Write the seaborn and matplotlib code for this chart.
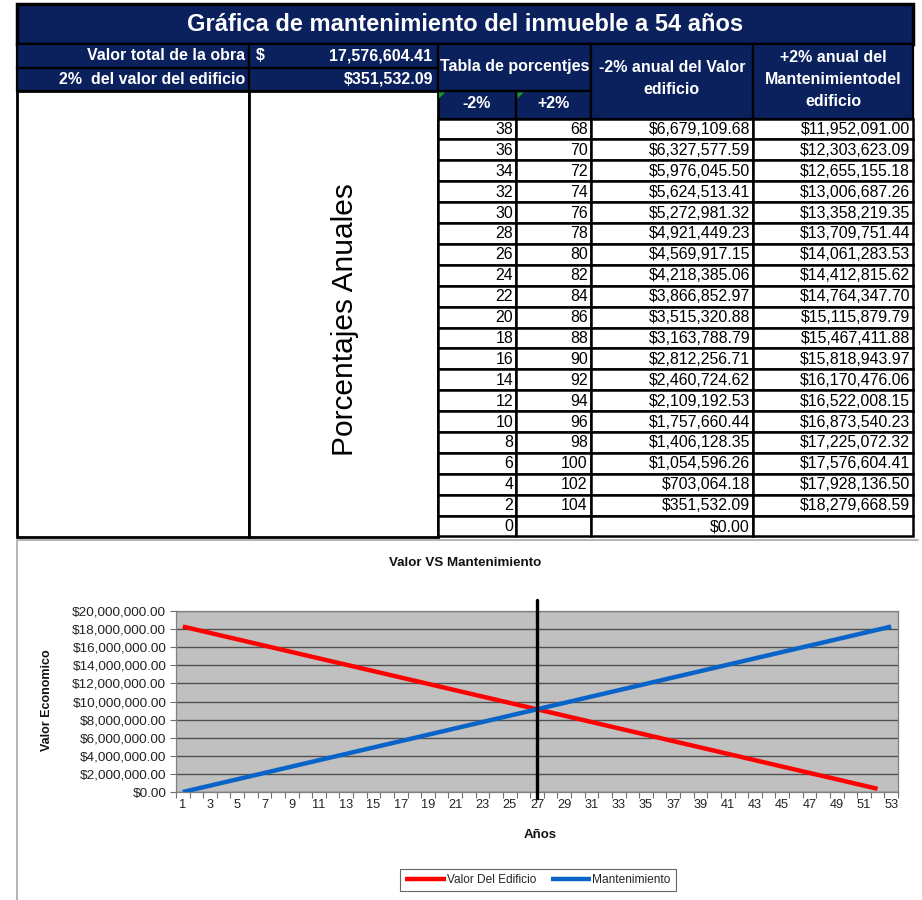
import matplotlib
matplotlib.use("Agg")
import matplotlib.pyplot as plt
from matplotlib.patches import Rectangle, Polygon
from matplotlib.ticker import FuncFormatter
import numpy as np
import pandas as pd
import seaborn as sns

# ---------------------------------------------------------------- data
titulo = "Gráfica de mantenimiento del inmueble a 54 años"
valor_total_obra = 17576604.41
dos_por_ciento = 351532.09

# Tabla de porcentajes
pct_menos = [38, 36, 34, 32, 30, 28, 26, 24, 22, 20, 18, 16, 14, 12, 10, 8, 6, 4, 2, 0]
pct_mas = [68, 70, 72, 74, 76, 78, 80, 82, 84, 86, 88, 90, 92, 94, 96, 98, 100, 102, 104]
valor_menos = [6679109.68, 6327577.59, 5976045.50, 5624513.41, 5272981.32,
               4921449.23, 4569917.15, 4218385.06, 3866852.97, 3515320.88,
               3163788.79, 2812256.71, 2460724.62, 2109192.53, 1757660.44,
               1406128.35, 1054596.26, 703064.18, 351532.09, 0.00]
valor_mas = [11952091.00, 12303623.09, 12655155.18, 13006687.26, 13358219.35,
             13709751.44, 14061283.53, 14412815.62, 14764347.70, 15115879.79,
             15467411.88, 15818943.97, 16170476.06, 16522008.15, 16873540.23,
             17225072.32, 17576604.41, 17928136.50, 18279668.59]

# Serie de la gráfica: valor del edificio (años 1-52) y mantenimiento (años 1-53)
valor_edificio = [18279668.59, 17928136.50, 17576604.41, 17225072.32, 16873540.23,
                  16522008.15, 16170476.06, 15818943.97, 15467411.88, 15115879.79,
                  14764347.70, 14412815.62, 14061283.53, 13709751.44, 13358219.35,
                  13006687.26, 12655155.18, 12303623.09, 11952091.00, 11600558.91,
                  11249026.82, 10897494.73, 10545962.65, 10194430.56, 9842898.47,
                  9491366.38, 9139834.29, 8788302.21, 8436770.12, 8085238.03,
                  7733705.94, 7382173.85, 7030641.76, 6679109.68, 6327577.59,
                  5976045.50, 5624513.41, 5272981.32, 4921449.23, 4569917.15,
                  4218385.06, 3866852.97, 3515320.88, 3163788.79, 2812256.71,
                  2460724.62, 2109192.53, 1757660.44, 1406128.35, 1054596.26,
                  703064.18, 351532.09]
mantenimiento = [0.00, 351532.09, 703064.18, 1054596.26, 1406128.35, 1757660.44,
                 2109192.53, 2460724.62, 2812256.71, 3163788.79, 3515320.88,
                 3866852.97, 4218385.06, 4569917.15, 4921449.23, 5272981.32,
                 5624513.41, 5976045.50, 6327577.59, 6679109.68, 7030641.76,
                 7382173.85, 7733705.94, 8085238.03, 8436770.12, 8788302.21,
                 9139834.29, 9491366.38, 9842898.47, 10194430.56, 10545962.65,
                 10897494.73, 11249026.82, 11600558.91, 11952091.00, 12303623.09,
                 12655155.18, 13006687.26, 13358219.35, 13709751.44, 14061283.53,
                 14412815.62, 14764347.70, 15115879.79, 15467411.88, 15818943.97,
                 16170476.06, 16522008.15, 16873540.23, 17225072.32, 17576604.41,
                 17928136.50, 18279668.59]
anio_cruce = 27
serie_nombres = ["Valor Del Edificio", "Mantenimiento"]

# ---------------------------------------------------------------- style
sns.set_style("white")
plt.rcParams["font.family"] = ["Liberation Sans", "DejaVu Sans"]

NAVY = "#0B215E"
W, H = 922, 900
fig = plt.figure(figsize=(W / 100, H / 100), dpi=100)

# Sheet layer in pixel coordinates
sheet = fig.add_axes([0, 0, 1, 1])
sheet.set_xlim(0, W)
sheet.set_ylim(H, 0)
sheet.axis("off")


def cell(x0, y0, x1, y1, fc="white", lw=1.6):
    sheet.add_patch(Rectangle((x0, y0), x1 - x0, y1 - y0, facecolor=fc,
                              edgecolor="black", linewidth=lw, zorder=2))


def money(v):
    return "${:,.2f}".format(v)


# column and row edges
cx = [17, 249, 437.5, 516, 590.5, 753, 913]
y_title = (4, 43.5)
y_r2 = (43.5, 67.5)
y_r3 = (67.5, 91)
y_sub = (91, 118.5)
row_h = 20.9
y_data0 = 118.5
y_end = y_data0 + row_h * len(pct_menos)

# title bar
cell(cx[0], y_title[0], cx[-1], y_title[1], NAVY, lw=2.5)
sheet.text(465, 24.5, titulo, color="white", fontsize=17, fontweight="bold",
           ha="center", va="center", zorder=5)

# summary rows
for (ya, yb) in (y_r2, y_r3):
    cell(cx[0], ya, cx[1], yb, NAVY)
    cell(cx[1], ya, cx[2], yb, NAVY)
hdr = dict(color="white", fontsize=11.5, fontweight="bold", va="center", zorder=5)
sheet.text(245, 56, "Valor total de la obra", ha="right", **hdr)
sheet.text(256, 56, "$", ha="left", **hdr)
sheet.text(432, 56, "{:,.2f}".format(valor_total_obra), ha="right", **hdr)
sheet.text(245, 79.5, "2%  del valor del edificio", ha="right", **hdr)
sheet.text(433, 79.5, money(dos_por_ciento), ha="right", **hdr)

# percentage table headers
cell(cx[2], y_r2[0], cx[4], y_sub[0], NAVY)
t = sheet.text(440, 67, "Tabla de porcentjes", ha="left", **hdr)
clip = Rectangle((cx[2], y_r2[0]), cx[4] - cx[2] - 1, y_sub[0] - y_r2[0],
                 transform=sheet.transData, visible=False)
sheet.add_patch(clip)
t.set_clip_path(clip)
cell(cx[2], y_sub[0], cx[3], y_sub[1], NAVY)
cell(cx[3], y_sub[0], cx[4], y_sub[1], NAVY)
sheet.text((cx[2] + cx[3]) / 2, 104, "-2%", ha="center", **hdr)
sheet.text((cx[3] + cx[4]) / 2, 104, "+2%", ha="center", **hdr)
for xg in (cx[2] + 1.5, cx[3] + 1.5):
    sheet.add_patch(Polygon([[xg, 92.5], [xg + 6, 92.5], [xg, 98.5]],
                            closed=True, facecolor="#1E9A1E", edgecolor="none", zorder=6))

cell(cx[4], y_r2[0], cx[5], y_sub[1], NAVY)
sheet.text((cx[4] + cx[5]) / 2, 68, "-2% anual del Valor", ha="center", **hdr)
sheet.text((cx[4] + cx[5]) / 2, 89.5, "edificio", ha="center", **hdr)
cell(cx[5], y_r2[0], cx[6], y_sub[1], NAVY)
sheet.text((cx[5] + cx[6]) / 2, 57, "+2% anual del", ha="center", **hdr)
sheet.text((cx[5] + cx[6]) / 2, 79, "Mantenimientodel", ha="center", **hdr)
sheet.text((cx[5] + cx[6]) / 2, 101, "edificio", ha="center", **hdr)

# empty white block with vertical caption
cell(cx[0], y_r3[1], cx[1], y_end, "white", lw=2)
cell(cx[1], y_r3[1], cx[2], y_end, "white", lw=2)
sheet.text(345, 320, "Porcentajes Anuales", rotation=90, fontsize=21.5,
           ha="center", va="center", color="black", zorder=5)

# data rows
num = dict(color="black", fontsize=11.4, va="center", ha="right", zorder=5)
for i in range(len(pct_menos)):
    y0 = y_data0 + i * row_h
    y1 = y0 + row_h
    for c in range(2, 6):
        cell(cx[c], y0, cx[c + 1], y1, "white", lw=1.8)
    yc = (y0 + y1) / 2 + 0.5
    sheet.text(cx[3] - 3, yc, str(pct_menos[i]), **num)
    if i < len(pct_mas):
        sheet.text(cx[4] - 3, yc, str(pct_mas[i]), **num)
        sheet.text(cx[6] - 3, yc, money(valor_mas[i]), **num)
    sheet.text(cx[5] - 3, yc, money(valor_menos[i]), **num)

# chart frame edges
sheet.plot([17, 17], [541, 900], color="#A8A8A8", lw=1.2, zorder=1)
sheet.plot([17, 918], [540, 540], color="#A8A8A8", lw=1.2, zorder=1)

# chart texts
sheet.text(465, 563, "Valor VS Mantenimiento", fontsize=9.6, fontweight="bold",
           ha="center", va="center", color="#111111")
sheet.text(47, 700, "Valor Economico", fontsize=9, fontweight="bold",
           rotation=90, ha="center", va="center", color="#111111")
sheet.text(540, 835, "Años", fontsize=9.5, fontweight="bold",
           ha="center", va="center", color="#111111")

# ---------------------------------------------------------------- chart
df = pd.concat([
    pd.DataFrame({"Año": np.arange(1, len(valor_edificio) + 1),
                  "Valor": valor_edificio, "Serie": serie_nombres[0]}),
    pd.DataFrame({"Año": np.arange(1, len(mantenimiento) + 1),
                  "Valor": mantenimiento, "Serie": serie_nombres[1]}),
])
n_cat = len(mantenimiento)

ax = fig.add_axes([176 / W, 1 - 792 / H, (898 - 176) / W, (792 - 611) / H])
ax.set_facecolor("#C0C0C0")
sns.lineplot(data=df, x="Año", y="Valor", hue="Serie", hue_order=serie_nombres,
             palette=["#FF0000", "#0A64C8"], linewidth=3.2, ax=ax,
             solid_capstyle="butt", zorder=3)

ax.set_xlim(0.5, n_cat + 0.5)
ax.set_ylim(0, 20000000)
ax.set_yticks(np.arange(0, 20000001, 2000000))
ax.yaxis.set_major_formatter(FuncFormatter(lambda v, p: "${:,.2f}".format(v)))
ax.yaxis.grid(True, color="#505050", linewidth=1.0)
ax.set_axisbelow(True)

ax.set_xticks(np.arange(0.5, n_cat + 1, 1))
ax.set_xticklabels([])
odd = np.arange(1, n_cat + 1, 2)
ax.set_xticks(odd, minor=True)
ax.set_xticklabels([str(v) for v in odd], minor=True)
ax.tick_params(axis="x", which="major", length=4, width=0.8, color="#707070",
               direction="out", bottom=True)
ax.tick_params(axis="x", which="minor", length=0, pad=5, labelsize=9.2,
               labelcolor="#222222", bottom=True)
ax.tick_params(axis="y", length=4, width=0.8, color="#707070", direction="out",
               left=True, labelsize=9.7, labelcolor="#222222", pad=3)
for s in ax.spines.values():
    s.set_color("#808080")
    s.set_linewidth(0.9)
ax.set_xlabel("")
ax.set_ylabel("")

# crossing marker
ax.axvline(anio_cruce, ymin=-0.035, ymax=1.06, color="black", linewidth=2.4,
           clip_on=False, zorder=4)

handles, labels = ax.get_legend_handles_labels()
ax.get_legend().remove()
leg = fig.legend(handles, labels, loc="center",
                 bbox_to_anchor=(538 / W, 1 - 880 / H), ncol=2, fontsize=8.6,
                 frameon=True, fancybox=False, edgecolor="#404040",
                 handlelength=3.4, handletextpad=0.1, columnspacing=1.2,
                 borderpad=0.45)
leg.get_frame().set_linewidth(0.8)

fig.savefig("out.png", dpi=100, facecolor="white")
